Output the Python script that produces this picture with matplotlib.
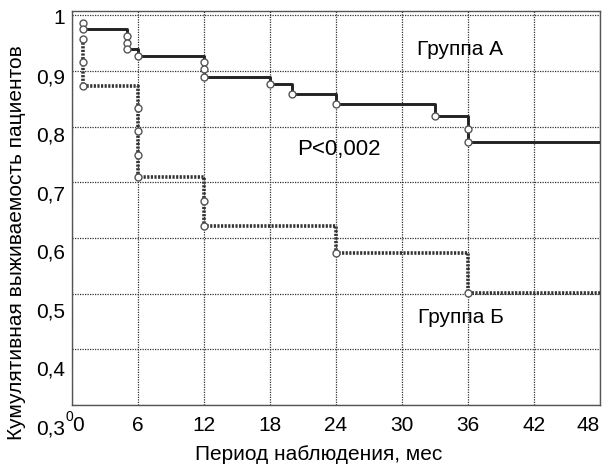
import matplotlib.pyplot as plt

plt.rcParams['font.family'] = ['Liberation Sans', 'DejaVu Sans']

# Kaplan-Meier steps (months, cumulative survival) with event marks
group_a_t = [1, 1, 5, 5, 5, 6, 12, 12, 12, 18, 20, 24, 33, 36, 36, 48]
group_a_s = [0.987, 0.975, 0.963, 0.951, 0.940, 0.928, 0.916, 0.903, 0.890,
             0.876, 0.858, 0.841, 0.819, 0.796, 0.773, 0.773]
group_b_t = [1, 1, 1, 6, 6, 6, 6, 12, 12, 24, 36, 48]
group_b_s = [0.957, 0.916, 0.874, 0.833, 0.792, 0.750, 0.709, 0.666, 0.621,
             0.574, 0.502, 0.502]

x_ticks = [0, 6, 12, 18, 24, 30, 36, 42, 48]
y_ticks = [0.3, 0.4, 0.5, 0.6, 0.7, 0.8, 0.9, 1.0]
y_labels = ['0,3', '0,4', '0,5', '0,6', '0,7', '0,8', '0,9', '1']

W, H = 602, 470
fig = plt.figure(figsize=(W / 100, H / 100), dpi=100)
ax = fig.add_axes([72 / W, (H - 405) / H, 528 / W, 394 / H])

ax.plot(group_a_t, group_a_s, drawstyle='steps-post', color='#222222', lw=2.1, zorder=3)
ax.plot(group_b_t, group_b_s, drawstyle='steps-post', color='#333333', lw=2.6,
        linestyle=(0, (0.6, 0.4)), zorder=3)
ax.plot(group_a_t[:-1], group_a_s[:-1], 'o', ms=5, mfc='white', mec='#555555', mew=1.0, zorder=4)
ax.plot(group_b_t[:-1], group_b_s[:-1], 'o', ms=5, mfc='white', mec='#555555', mew=1.0, zorder=4)

ax.set_xlim(0, 48)
ax.set_ylim(0.3, 1.008)
ax.set_xticks(x_ticks)
ax.set_yticks(y_ticks)
ax.set_yticklabels([])
ax.set_xticklabels([str(t) for t in x_ticks], fontsize=15)
ax.tick_params(length=0, pad=8)
xl = ax.get_xticklabels()
xl[0].set_horizontalalignment('left')
xl[0].set_x(0.8)
xl[-1].set_horizontalalignment('right')
ax.grid(True, linestyle=(0, (1, 1)), color='#333333', lw=0.9)
for s in ax.spines.values():
    s.set_color('#555555')
    s.set_linewidth(1.0)

# y tick labels sit on their own slightly taller scale
lab = fig.add_axes([72 / W, (H - 427) / H, 528 / W, 410 / H])
lab.set_ylim(0.3, 1.0)
lab.set_yticks(y_ticks)
lab.set_yticklabels(y_labels, fontsize=15)
lab.tick_params(length=0, pad=5)
lab.set_xticks([])
lab.patch.set_visible(False)
for s in lab.spines.values():
    s.set_visible(False)

ax.text(35.3, 0.938, 'Группа А', fontsize=15, ha='center', va='center')
ax.text(24.3, 0.760, 'P<0,002', fontsize=16, ha='center', va='center')
ax.text(35.4, 0.458, 'Группа Б', fontsize=15, ha='center', va='center')

fig.text(69 / W, (H - 417) / H, '0', fontsize=10, ha='center', va='center')
fig.text(17 / W, (H - 243) / H, 'Кумулятивная выживаемость пациентов',
         fontsize=15, rotation=90, ha='center', va='center')
fig.text(319 / W, (H - 455) / H, 'Период наблюдения, мес',
         fontsize=15, ha='center', va='center')

fig.savefig('out.png', dpi=100)
